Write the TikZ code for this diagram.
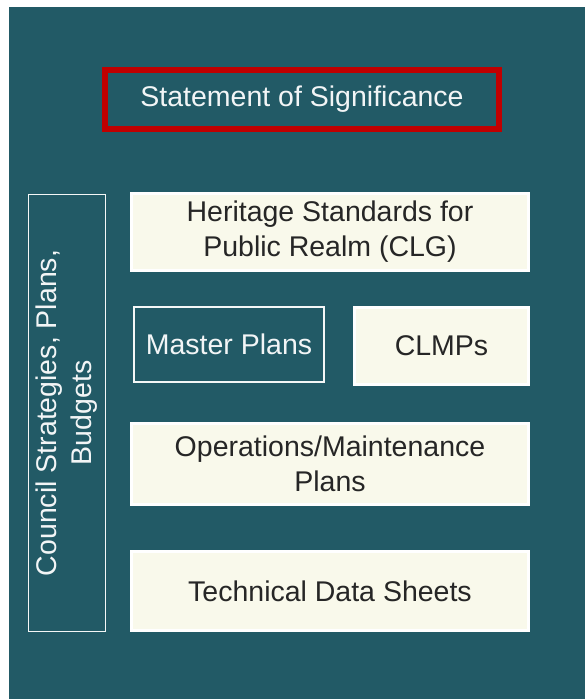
\documentclass[tikz,border=0pt]{standalone}
\usepackage{fontspec}
\setmainfont{Liberation Sans}
\usetikzlibrary{positioning,shadows}

\definecolor{teal}{HTML}{225A66}
\definecolor{cream}{HTML}{F9F9EB}
\definecolor{redline}{HTML}{C00000}
\definecolor{darktext}{HTML}{262626}

\tikzset{
    lightbox/.style={draw=white, line width=3.5pt, fill=cream, text=darktext,
        align=center, inner sep=0pt,
        drop shadow={shadow xshift=1.2pt, shadow yshift=-1.2pt, fill=gray!70, opacity=1}},
    darkbox/.style={draw=white!95!teal, line width=1.6pt, text=white!94!teal,
        align=center, inner sep=0pt},
}

\begin{document}
\begin{tikzpicture}[x=1pt, y=-1pt, font=\fontsize{28.5}{35}\selectfont]
        \useasboundingbox (0,0) rectangle (585,699);
        \fill[teal] (9,7) rectangle (585,699);
        % top statement
        \node[draw=redline, line width=6pt, text=white!94!teal, inner sep=0pt,
            minimum width=394pt, minimum height=59pt] (sos) at (302,99.5) {Statement of Significance};
        % side bar
        \node[darkbox, minimum width=437pt, minimum height=77pt, rotate=90] (council) at (67,413)
            {Council Strategies, Plans,\\Budgets};
        % plan boxes
        \node[lightbox, minimum width=397pt, minimum height=77pt] (heritage) at (330,232)
            {Heritage Standards for\\Public Realm (CLG)};
        \node[darkbox, minimum width=190pt, minimum height=75pt] (master) at (229,344.5) {Master Plans};
        \node[lightbox, minimum width=174pt, minimum height=77pt] (clmps) at (441.5,346) {CLMPs};
        \node[lightbox, minimum width=397pt, minimum height=81pt] (ops) at (330,464)
            {Operations/Maintenance\\Plans};
        \node[lightbox, minimum width=397pt, minimum height=79pt] (tech) at (330,591) {Technical Data Sheets};
    \end{tikzpicture}
\end{document}
